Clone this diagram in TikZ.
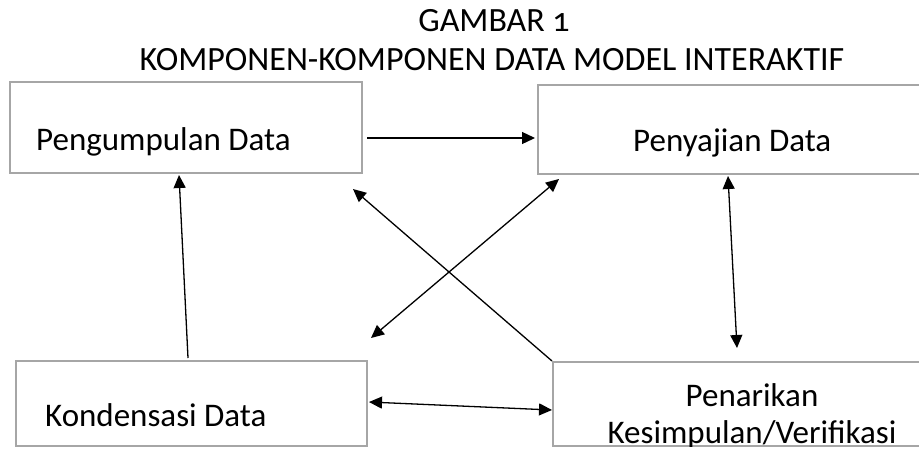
\documentclass[tikz,border=0pt]{standalone}
\usepackage{fontspec}
\setmainfont{Carlito}
\usepackage{tikz}
\usetikzlibrary{arrows.meta,positioning,calc}

\definecolor{boxgray}{RGB}{166,166,166}

\begin{document}
\begin{tikzpicture}[x=1pt, y=-1pt,
    >={Triangle[length=13pt,width=12pt]},
    box/.style={draw=boxgray, line width=2pt, rectangle, inner sep=0pt},
    lbl/.style={inner sep=0pt, font=\fontsize{33}{40}\selectfont},
    head/.style={inner sep=0pt, font=\fontsize{34}{40}\selectfont},
    link/.style={line width=1.3pt}]

\useasboundingbox (0,0) rectangle (919,448);

% Title
\node[head, anchor=base] (t1) at (494,31) {GAMBAR {\addfontfeatures{Numbers=OldStyle}1}};
\node[head, anchor=base] (t2) at (492,70) {KOMPONEN-KOMPONEN DATA MODEL INTERAKTIF};

% Boxes (the right ones run off the page)
\node[box, minimum width=352pt, minimum height=91pt] (pd) at (186,127.5) {};
\node[box, minimum width=392pt, minimum height=89pt] (sd) at (734,129.5) {};
\node[box, minimum width=351pt, minimum height=85pt] (kd) at (191.5,403.5) {};
\node[box, minimum width=377pt, minimum height=84pt] (pk) at (741.5,404) {};

% Box texts
\node[lbl, anchor=base west] (pdtext) at (36,150) {Pengumpulan Data};
\node[lbl, anchor=base west] (sdtext) at (633,151.5) {Penyajian Data};
\node[lbl, anchor=base west] (kdtext) at (45,426.5) {Kondensasi Data};
\node[lbl, anchor=base] (pktext1) at (752,406) {Penarikan};
\begin{scope}
  % the lower line runs into the bottom edge of its box
  \clip (pk.north west) rectangle ($(pk.south east)+(0,-1)$);
  \node[lbl, anchor=base] (pktext2) at (752,443.5) {Kesimpulan/Verifikasi};
\end{scope}

% One-way arrows
\draw[link, ->] ($(pd.east)+(4,10.5)$) -- ($(sd.west)+(-2,8.5)$);
\draw[link, ->] ($(kd.north)+(-3.5,-2)$) -- ($(pd.south)+(-7,1)$);
\draw[link, ->] (pk.north west) -- ($(pd.south east)+(-10,15)$);

% Two-way arrows
\draw[link, <->] ($(kd.east)+(1,-1.5)$) -- ($(pk.west)+(0,6)$);
\draw[link, <->] ($(sd.south)+(-6,1)$) -- ($(pk.north)+(-4.5,-13)$);
\draw[link, <->] ($(sd.south west)+(22,4)$) -- ($(kd.north east)+(3,-22)$);

\end{tikzpicture}
\end{document}
